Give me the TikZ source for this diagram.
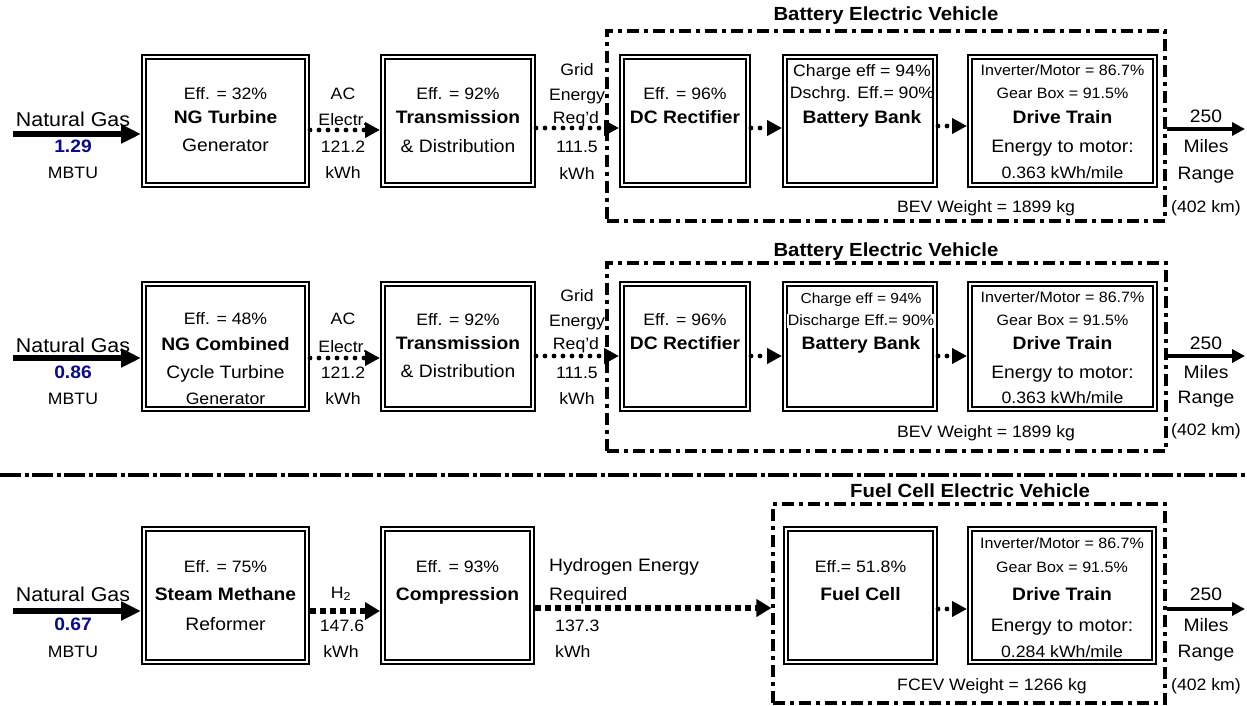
\documentclass[tikz,border=0pt]{standalone}
\usepackage{fontspec}
\setmainfont[FakeStretch=1.07]{Liberation Sans}
\usetikzlibrary{arrows.meta}
\definecolor{navyblue}{RGB}{10,10,140}
\newcommand\fA{\fontsize{16.5}{18}\selectfont}
\newcommand\fB{\fontsize{18}{20}\selectfont\bfseries}
\newcommand\fC{\fontsize{18}{20}\selectfont}
\newcommand\fS{\fontsize{15}{17}\selectfont}
\newcommand\fSS{\fontsize{14.5}{16}\selectfont}
\newcommand\fNG{\fontsize{20}{22}\selectfont}
\newcommand\fT{\fontsize{19}{21}\selectfont\bfseries}
\newcommand\fN{\fontsize{18}{20}\selectfont\bfseries\color{navyblue}}
\begin{document}
\begin{tikzpicture}[x=1pt,y=-1pt,
  box/.style={draw, double=white, line width=1.7pt, double distance=2.2pt, inner sep=0pt, outer sep=2.8pt},
  vbox/.style={draw, line width=3.2pt, dash pattern=on 12pt off 5pt on 4pt off 5pt, inner sep=0pt},
  t/.style={anchor=base, inner sep=0pt},
  tl/.style={anchor=base west, inner sep=0pt},
  big/.style={line width=6pt, -{Triangle[length=20pt,width=18pt]}},
  outarrow/.style={line width=4pt, -{Triangle[length=13pt,width=13pt]}},
  dots/.style={line width=4.8pt, line cap=round, dash pattern=on 0pt off 9pt, -{Triangle[length=15pt,width=15pt]}},
  sqdots/.style={line width=5.5pt, dash pattern=on 5.5pt off 4.5pt, -{Triangle[length=15pt,width=17pt]}},
  sep/.style={line width=3.2pt, dash pattern=on 21pt off 3.5pt on 4pt off 3.5pt}
]
\useasboundingbox (0,0) rectangle (1247,706);

% ================= Row 1 =================
\node[vbox, minimum width=558pt, minimum height=190pt] (bev1) at (886,126) {};
\node[t] (tt1) at (886,21) {\fT Battery Electric Vehicle};
\node[box, minimum width=163.4pt, minimum height=128.4pt] (b11) at (225.5,121) {};
\node[box, minimum width=150.4pt, minimum height=128.4pt] (b12) at (458,121) {};
\node[box, minimum width=126.4pt, minimum height=128.4pt] (b13) at (685,121) {};
\node[box, minimum width=150.4pt, minimum height=128.4pt] (b14) at (860,121) {};
\node[box, minimum width=185.4pt, minimum height=128.4pt] (b15) at (1062.5,121) {};

\node[t] (ng1a) at (73,127) {\fNG Natural Gas};
\node[t] (ng1b) at (73,152) {\fN 1.29};
\node[t] (ng1c) at (73,178) {\fA MBTU};
\node[t] (b11a) at (225.5,100) {\fA Eff. = 32\%};
\node[t] (b11b) at (225.5,124) {\fB NG Turbine};
\node[t] (b11c) at (225.5,151) {\fC Generator};
\node[t] (ac1a) at (343,100) {\fA AC};
\node[t] (ac1b) at (343,126) {\fA Electr.};
\node[t] (ac1c) at (343,152) {\fA 121.2};
\node[t] (ac1d) at (343,178) {\fA kWh};
\node[t] (b12a) at (458,100) {\fA Eff. = 92\%};
\node[t] (b12b) at (458,124) {\fB Transmission};
\node[t] (b12c) at (458,152) {\fC \& Distribution};
\node[t] (gr1a) at (577,76) {\fA Grid};
\node[t] (gr1b) at (577,101) {\fA Energy};
\node[t] (gr1c) at (576,124) {\fA Req'd};
\node[t] (gr1d) at (577,153) {\fA 111.5};
\node[t] (gr1e) at (577,179) {\fA kWh};
\node[t] (b13a) at (685,100) {\fA Eff. = 96\%};
\node[t] (b13b) at (685,124) {\fB DC Rectifier};
\node[t] (b14a) at (862,77) {\fA Charge eff = 94\%};
\node[t] (b14b) at (862,99) {\fA Dschrg. Eff.= 90\%};
\node[t] (b14c) at (862,124) {\fB Battery Bank};
\node[t] (b15a) at (1062.5,76) {\fS Inverter/Motor = 86.7\%};
\node[t] (b15b) at (1062.5,99) {\fS Gear Box = 91.5\%};
\node[t] (b15c) at (1062.5,124) {\fB Drive Train};
\node[t] (b15d) at (1062.5,153) {\fC Energy to motor:};
\node[t] (b15e) at (1062.5,178) {\fA 0.363 kWh/mile};
\node[t] (rg1a) at (1206,123) {\fC 250};
\node[t] (rg1b) at (1206,153) {\fC Miles};
\node[t] (rg1c) at (1206,179) {\fC Range};
\node[t] (rg1d) at (1206,212) {\fA (402 km)};
\node[t] (w1) at (986,212) {\fA BEV Weight = 1899 kg};

\coordinate (s1) at (13,134);
\coordinate (y1a) at (0,130);
\coordinate (y1b) at (0,128);
\coordinate (y1c) at (0,126);
\coordinate (e1) at (1245,129);
\draw[big] (s1) -- (b11.west |- s1);
\draw[dots] (b11.east |- y1a) -- (b12.west |- y1a);
\draw[dots] (b12.east |- y1b) -- (b13.west |- y1b);
\draw[dots] (b13.east |- y1b) -- (b14.west |- y1b);
\draw[dots] (b14.east |- y1c) -- (b15.west |- y1c);
\draw[outarrow] (bev1.east |- e1) -- (e1);

% ================= Row 2 =================
\node[vbox, minimum width=559pt, minimum height=188pt] (bev2) at (886.5,357) {};
\node[t] (tt2) at (886,256) {\fT Battery Electric Vehicle};
\node[box, minimum width=163.4pt, minimum height=125.4pt] (b21) at (225.5,346.5) {};
\node[box, minimum width=150.4pt, minimum height=125.4pt] (b22) at (458,346.5) {};
\node[box, minimum width=126.4pt, minimum height=125.4pt] (b23) at (685,346.5) {};
\node[box, minimum width=150.4pt, minimum height=125.4pt] (b24) at (860,346.5) {};
\node[box, minimum width=185.4pt, minimum height=125.4pt] (b25) at (1062.5,346.5) {};

\node[t] (ng2a) at (73,352) {\fNG Natural Gas};
\node[t] (ng2b) at (73,378) {\fN 0.86};
\node[t] (ng2c) at (73,404) {\fA MBTU};
\node[t] (b21a) at (225.5,324) {\fA Eff. = 48\%};
\node[t] (b21b) at (225.5,350) {\fB NG Combined};
\node[t] (b21c) at (225.5,378) {\fC Cycle Turbine};
\node[t] (b21d) at (225.5,404) {\fA Generator};
\node[t] (ac2a) at (343,324) {\fA AC};
\node[t] (ac2b) at (343,352) {\fA Electr.};
\node[t] (ac2c) at (343,378) {\fA 121.2};
\node[t] (ac2d) at (343,404) {\fA kWh};
\node[t] (b22a) at (458,325) {\fA Eff. = 92\%};
\node[t] (b22b) at (458,349) {\fB Transmission};
\node[t] (b22c) at (458,377) {\fC \& Distribution};
\node[t] (gr2a) at (577,301) {\fA Grid};
\node[t] (gr2b) at (577,326) {\fA Energy};
\node[t] (gr2c) at (576,349) {\fA Req'd};
\node[t] (gr2d) at (577,378) {\fA 111.5};
\node[t] (gr2e) at (577,404) {\fA kWh};
\node[t] (b23a) at (685,325) {\fA Eff. = 96\%};
\node[t] (b23b) at (685,349) {\fB DC Rectifier};
\node[t] (b24a) at (861,303) {\fSS Charge eff = 94\%};
\node[t, fill=white, inner xsep=1pt] (b24b) at (861,325) {\fS Discharge Eff.= 90\%};
\node[t] (b24c) at (861,349) {\fB Battery Bank};
\node[t] (b25a) at (1062.5,302) {\fS Inverter/Motor = 86.7\%};
\node[t] (b25b) at (1062.5,325) {\fS Gear Box = 91.5\%};
\node[t] (b25c) at (1062.5,349) {\fB Drive Train};
\node[t] (b25d) at (1062.5,378) {\fC Energy to motor:};
\node[t] (b25e) at (1062.5,403) {\fA 0.363 kWh/mile};
\node[t] (rg2a) at (1206,349) {\fC 250};
\node[t] (rg2b) at (1206,378) {\fC Miles};
\node[t] (rg2c) at (1206,403) {\fC Range};
\node[t] (rg2d) at (1206,435) {\fA (402 km)};
\node[t] (w2) at (986,437) {\fA BEV Weight = 1899 kg};

\coordinate (s2) at (13,358);
\coordinate (y2a) at (0,358);
\coordinate (y2b) at (0,356);
\coordinate (e2) at (1245,356);
\draw[big] (s2) -- (b21.west |- s2);
\draw[dots] (b21.east |- y2a) -- (b22.west |- y2a);
\draw[dots] (b22.east |- y2b) -- (b23.west |- y2b);
\draw[dots] (b23.east |- y2b) -- (b24.west |- y2b);
\draw[dots] (b24.east |- y2b) -- (b25.west |- y2b);
\draw[outarrow] (bev2.east |- e2) -- (e2);

% ================= Separator =================
\coordinate (sepL) at (0,475);
\coordinate (sepR) at (1247,475);
\draw[sep] (sepL) -- (sepR);

% ================= Row 3 =================
\node[vbox, minimum width=392pt, minimum height=199pt] (fcev) at (969,603.5) {};
\node[t] (tt3) at (970,497) {\fT Fuel Cell Electric Vehicle};
\node[box, minimum width=163.4pt, minimum height=133.4pt] (b31) at (225.5,595.5) {};
\node[box, minimum width=149.4pt, minimum height=133.4pt] (b32) at (457.5,595.5) {};
\node[box, minimum width=149.4pt, minimum height=133.4pt] (b33) at (860.5,595.5) {};
\node[box, minimum width=184.4pt, minimum height=133.4pt] (b34) at (1062,595.5) {};

\node[t] (ng3a) at (73,601) {\fNG Natural Gas};
\node[t] (ng3b) at (73,630) {\fN 0.67};
\node[t] (ng3c) at (73,657) {\fA MBTU};
\node[t] (b31a) at (225.5,572) {\fA Eff. = 75\%};
\node[t] (b31b) at (225.5,600) {\fB Steam Methane};
\node[t] (b31c) at (225.5,630) {\fC Reformer};
\node[t] (h2a) at (341,598) {\fA H\textsubscript{2}};
\node[t] (h2b) at (342,631) {\fA 147.6};
\node[t] (h2c) at (341,657) {\fA kWh};
\node[t] (b32a) at (457.5,572) {\fA Eff. = 93\%};
\node[t] (b32b) at (457.5,600) {\fB Compression};
\node[tl] (hy1) at (549,571) {\fC Hydrogen Energy};
\node[tl] (hy2) at (549,600) {\fC Required};
\node[tl] (hy3) at (555,631) {\fA 137.3};
\node[tl] (hy4) at (555,657) {\fA kWh};
\node[t] (b33a) at (860.5,572) {\fA Eff.= 51.8\%};
\node[t] (b33b) at (860.5,600) {\fB Fuel Cell};
\node[t] (b34a) at (1062,548) {\fS Inverter/Motor = 86.7\%};
\node[t] (b34b) at (1062,572) {\fS Gear Box = 91.5\%};
\node[t] (b34c) at (1062,600) {\fB Drive Train};
\node[t] (b34d) at (1062,631) {\fC Energy to motor:};
\node[t] (b34e) at (1062,657) {\fA 0.284 kWh/mile};
\node[t] (rg3a) at (1206,600) {\fC 250};
\node[t] (rg3b) at (1206,631) {\fC Miles};
\node[t] (rg3c) at (1206,657) {\fC Range};
\node[t] (rg3d) at (1206,690) {\fA (402 km)};
\node[t] (w3) at (992,690) {\fA FCEV Weight = 1266 kg};

\coordinate (s3) at (13,611);
\coordinate (y3a) at (0,611);
\coordinate (y3b) at (0,608);
\coordinate (y3c) at (0,609);
\coordinate (e3) at (1245,609);
\draw[big] (s3) -- (b31.west |- s3);
\draw[sqdots] (b31.east |- y3a) -- (b32.west |- y3a);
\draw[sqdots] (b32.east |- y3b) -- (fcev.west |- y3b);
\draw[dots] (b33.east |- y3c) -- (b34.west |- y3c);
\draw[outarrow] (fcev.east |- e3) -- (e3);
\end{tikzpicture}
\end{document}
